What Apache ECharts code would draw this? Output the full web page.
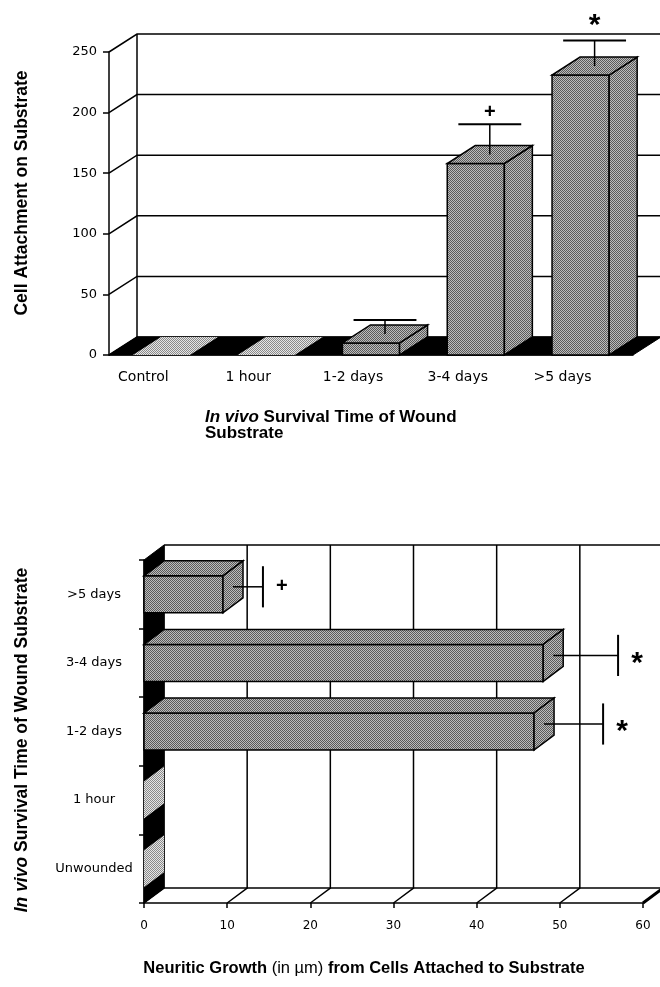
<!DOCTYPE html>
<html>
<head>
<meta charset="utf-8">
<script src="https://cdn.jsdelivr.net/npm/echarts@6/dist/echarts.min.js"></script>
<style>
html, body { margin: 0; padding: 0; background: #fff; }
#main { width: 660px; height: 987px; }
</style>
</head>
<body>
<div id="main"></div>
<script>
// top chart - cell attachment
var attachCategories = ['Control', '1 hour', '1-2 days', '3-4 days', '>5 days'];
var attachValues = [0, 0, 10, 158, 231];
var attachErrors = [0, 0, 11.5, 25, 21];
var attachMarks = ['', '', '', '+', '*'];
var attachTicks = [0, 50, 100, 150, 200, 250];

// bottom chart - neuritic growth
var growthCategories = ['Unwounded', '1 hour', '1-2 days', '3-4 days', '>5 days'];
var growthValues = [0, 0, 46.9, 48.0, 9.5];
var growthErrors = [0, 0, 7.1, 7.8, 3.6];
var growthMarks = ['', '', '*', '*', '+'];
var growthTicks = [0, 10, 20, 30, 40, 50, 60];

var TOP_DX = 28, TOP_DY = -18;
var BOT_DX = 20, BOT_DY = -15;
var LBL_FONT = 'DejaVu Sans';
var TITLE_FONT = 'Liberation Sans';

// little stipple tile, like the halftone fill of the old print
function stipple(dark, light) {
  var c = document.createElement('canvas');
  c.width = 2; c.height = 2;
  var g = c.getContext('2d');
  g.fillStyle = light; g.fillRect(0, 0, 2, 2);
  g.fillStyle = dark; g.fillRect(0, 0, 1, 1); g.fillRect(1, 1, 1, 1);
  return { image: c, repeat: 'repeat' };
}
var BAR_FILL = stipple('#5a5a5a', '#bcbcbc');
var FLAT_FILL = stipple('#8a8a8a', '#e6e6e6');

function markText(mark, x, y) {
  // asterisk glyph sits high, push it down a bit
  return {
    type: 'text',
    style: {
      text: mark, x: x, y: y + (mark === '*' ? 8 : 0),
      fontFamily: TITLE_FONT, fontWeight: 'bold',
      fontSize: mark === '*' ? 30 : 20,
      fill: '#000', align: 'center', verticalAlign: 'middle'
    }
  };
}

// back wall + floor of the top chart
function topFrame(params, api) {
  var cs = params.coordSys;
  var x0 = cs.x, x1 = cs.x + cs.width, yb = cs.y + cs.height, yt = cs.y;
  var kids = [];
  kids.push({
    type: 'polygon',
    shape: { points: [[x0, yb], [x1, yb], [x1 + TOP_DX, yb + TOP_DY], [x0 + TOP_DX, yb + TOP_DY]] },
    style: { fill: '#000', stroke: '#000', lineWidth: 1 }
  });
  kids.push({
    type: 'line',
    shape: { x1: x0 + TOP_DX, y1: yb + TOP_DY, x2: x0 + TOP_DX, y2: yt + TOP_DY },
    style: { stroke: '#000', lineWidth: 1.5 }
  });
  return { type: 'group', children: kids };
}

function topGridLine(params, api) {
  var cs = params.coordSys;
  var y = api.coord([0, api.value(1)])[1];
  var x0 = cs.x;
  return {
    type: 'polyline',
    shape: { points: [[x0, y], [x0 + TOP_DX, y + TOP_DY], [x0 + cs.width + TOP_DX, y + TOP_DY]] },
    style: { stroke: '#000', lineWidth: 1.5, fill: null }
  };
}

function topBar(params, api) {
  var i = api.value(0), v = api.value(1), e = api.value(2);
  var top = api.coord([i, v]);
  var base = api.coord([i, 0]);
  var bw = api.size([1, 0])[0] * 0.545;
  var xa = top[0] - bw / 2, xb = top[0] + bw / 2;
  var kids = [];
  if (v <= 0) {
    kids.push({
      type: 'polygon',
      shape: { points: [[xa, base[1]], [xb, base[1]], [xb + TOP_DX, base[1] + TOP_DY], [xa + TOP_DX, base[1] + TOP_DY]] },
      style: { fill: FLAT_FILL }
    });
  } else {
    var st = { fill: BAR_FILL, stroke: '#000', lineWidth: 1.5 };
    kids.push({ type: 'rect', shape: { x: xa, y: top[1], width: bw, height: base[1] - top[1] }, style: st });
    kids.push({
      type: 'polygon',
      shape: { points: [[xb, top[1]], [xb, base[1]], [xb + TOP_DX, base[1] + TOP_DY], [xb + TOP_DX, top[1] + TOP_DY]] },
      style: st
    });
    kids.push({
      type: 'polygon',
      shape: { points: [[xa, top[1]], [xb, top[1]], [xb + TOP_DX, top[1] + TOP_DY], [xa + TOP_DX, top[1] + TOP_DY]] },
      style: st
    });
  }
  if (e > 0) {
    var sx = top[0] + TOP_DX / 2;
    var sy = top[1] + TOP_DY / 2;
    var cy = api.coord([i, v + e])[1] + TOP_DY / 2;
    var cw = api.size([1, 0])[0] * 0.6;
    kids.push({ type: 'line', shape: { x1: sx, y1: sy, x2: sx, y2: cy }, style: { stroke: '#000', lineWidth: 1.5 } });
    kids.push({ type: 'line', shape: { x1: sx - cw / 2, y1: cy, x2: sx + cw / 2, y2: cy }, style: { stroke: '#000', lineWidth: 2 } });
    var m = attachMarks[i];
    if (m) kids.push(markText(m, sx, cy - (m === '*' ? 23 : 12)));
  }
  return { type: 'group', children: kids };
}

// left wall + bottom plane of the lower chart
function botFrame(params, api) {
  var cs = params.coordSys;
  var x0 = cs.x, x1 = cs.x + cs.width, yb = cs.y + cs.height, yt = cs.y;
  var kids = [];
  kids.push({
    type: 'polygon',
    shape: { points: [[x0, yb], [x0, yt], [x0 + BOT_DX, yt + BOT_DY], [x0 + BOT_DX, yb + BOT_DY]] },
    style: { fill: '#000', stroke: '#000', lineWidth: 1 }
  });
  kids.push({
    type: 'line',
    shape: { x1: x0 + BOT_DX, y1: yt + BOT_DY, x2: x1 + BOT_DX, y2: yt + BOT_DY },
    style: { stroke: '#000', lineWidth: 1.5 }
  });
  kids.push({
    type: 'line',
    shape: { x1: x0 + BOT_DX, y1: yb + BOT_DY, x2: x1 + BOT_DX, y2: yb + BOT_DY },
    style: { stroke: '#000', lineWidth: 1.5 }
  });
  return { type: 'group', children: kids };
}

function botGridLine(params, api) {
  var cs = params.coordSys;
  var v = api.value(0);
  var x = api.coord([v, 0])[0];
  var yb = cs.y + cs.height, yt = cs.y;
  return {
    type: 'polyline',
    shape: { points: [[x, yb], [x + BOT_DX, yb + BOT_DY], [x + BOT_DX, yt + BOT_DY]] },
    style: { stroke: '#000', lineWidth: v === 60 ? 3 : 1.5, fill: null }
  };
}

function botBar(params, api) {
  var i = api.value(0), v = api.value(1), e = api.value(2);
  var end = api.coord([v, i]);
  var base = api.coord([0, i]);
  var bh = api.size([0, 1])[1] * 0.54;
  var ya = end[1] - bh / 2, yb = end[1] + bh / 2;
  var kids = [];
  if (v <= 0) {
    kids.push({
      type: 'polygon',
      shape: { points: [[base[0], ya], [base[0], yb], [base[0] + BOT_DX, yb + BOT_DY], [base[0] + BOT_DX, ya + BOT_DY]] },
      style: { fill: FLAT_FILL }
    });
  } else {
    var st = { fill: BAR_FILL, stroke: '#000', lineWidth: 1.5 };
    kids.push({ type: 'rect', shape: { x: base[0], y: ya, width: end[0] - base[0], height: bh }, style: st });
    kids.push({
      type: 'polygon',
      shape: { points: [[base[0], ya], [end[0], ya], [end[0] + BOT_DX, ya + BOT_DY], [base[0] + BOT_DX, ya + BOT_DY]] },
      style: st
    });
    kids.push({
      type: 'polygon',
      shape: { points: [[end[0], ya], [end[0], yb], [end[0] + BOT_DX, yb + BOT_DY], [end[0] + BOT_DX, ya + BOT_DY]] },
      style: st
    });
  }
  if (e > 0) {
    var sy = end[1] + BOT_DY / 2;
    var sx = end[0] + BOT_DX / 2;
    var cx = api.coord([v + e, i])[0] + BOT_DX / 2;
    var ch = api.size([0, 1])[1] * 0.6;
    kids.push({ type: 'line', shape: { x1: sx, y1: sy, x2: cx, y2: sy }, style: { stroke: '#000', lineWidth: 1.5 } });
    kids.push({ type: 'line', shape: { x1: cx, y1: sy - ch / 2, x2: cx, y2: sy + ch / 2 }, style: { stroke: '#000', lineWidth: 2 } });
    var m = growthMarks[i];
    if (m) kids.push(markText(m, cx + 19, sy));
  }
  return { type: 'group', children: kids };
}

var chart = echarts.init(document.getElementById('main'));

var axisLineStyle = { color: '#000', width: 1.5 };

chart.setOption({
  animation: false,
  backgroundColor: '#fff',
  grid: [
    { left: 109, right: 27, top: 52, bottom: 632 },
    { left: 144, right: 17, top: 560, bottom: 84 }
  ],
  xAxis: [
    {
      gridIndex: 0, type: 'category', data: attachCategories,
      axisLine: { lineStyle: axisLineStyle },
      axisTick: { length: 6, lineStyle: axisLineStyle },
      axisLabel: { color: '#000', fontFamily: LBL_FONT, fontSize: 14, margin: 15, padding: [0, 36, 0, 0] },
      splitLine: { show: false }
    },
    {
      gridIndex: 1, type: 'value', min: 0, max: 60, interval: 10,
      axisLine: { show: true, lineStyle: axisLineStyle },
      axisTick: { show: true, length: 5, lineStyle: axisLineStyle },
      axisLabel: { color: '#000', fontFamily: LBL_FONT, fontSize: 12, margin: 17 },
      splitLine: { show: false }
    }
  ],
  yAxis: [
    {
      gridIndex: 0, type: 'value', min: 0, max: 250, interval: 50,
      axisLine: { show: true, lineStyle: axisLineStyle },
      axisTick: { show: true, length: 6, lineStyle: axisLineStyle },
      axisLabel: { color: '#000', fontFamily: LBL_FONT, fontSize: 13, margin: 12 },
      splitLine: { show: false }
    },
    {
      gridIndex: 1, type: 'category', data: growthCategories,
      axisLine: { show: true, lineStyle: axisLineStyle },
      axisTick: { show: true, length: 5, lineStyle: axisLineStyle },
      axisLabel: { color: '#000', fontFamily: LBL_FONT, fontSize: 13, margin: 50, align: 'center' },
      splitLine: { show: false }
    }
  ],
  series: [
    {
      type: 'custom', xAxisIndex: 0, yAxisIndex: 0, z: 1, silent: true,
      data: attachTicks.map(function (t) { return [0, t]; }),
      renderItem: topGridLine
    },
    {
      type: 'custom', xAxisIndex: 0, yAxisIndex: 0, z: 2, silent: true,
      data: [[0, 0]],
      renderItem: topFrame
    },
    {
      type: 'custom', xAxisIndex: 0, yAxisIndex: 0, z: 3,
      data: attachValues.map(function (v, i) { return [i, v, attachErrors[i]]; }),
      renderItem: topBar
    },
    {
      type: 'custom', xAxisIndex: 1, yAxisIndex: 1, z: 1, silent: true,
      data: growthTicks.map(function (t) { return [t, 0]; }),
      renderItem: botGridLine
    },
    {
      type: 'custom', xAxisIndex: 1, yAxisIndex: 1, z: 2, silent: true,
      data: [[0, 0]],
      renderItem: botFrame
    },
    {
      type: 'custom', xAxisIndex: 1, yAxisIndex: 1, z: 3,
      data: growthValues.map(function (v, i) { return [i, v, growthErrors[i]]; }),
      encode: { x: 1, y: 0 },
      renderItem: botBar
    }
  ],
  graphic: [
    {
      type: 'text', x: 22, y: 193, rotation: Math.PI / 2,
      style: {
        text: 'Cell Attachment on Substrate',
        fontFamily: TITLE_FONT, fontWeight: 'bold', fontSize: 17.5, fill: '#000',
        align: 'center', verticalAlign: 'middle'
      }
    },
    {
      type: 'text', x: 205, y: 409,
      style: {
        text: '{i|In vivo} Survival Time of Wound\nSubstrate',
        fontFamily: TITLE_FONT, fontWeight: 'bold', fontSize: 17, fill: '#000', lineHeight: 16,
        align: 'left', verticalAlign: 'top',
        rich: { i: { fontFamily: TITLE_FONT, fontWeight: 'bold', fontStyle: 'italic', fontSize: 17, lineHeight: 16 } }
      }
    },
    {
      type: 'text', x: 22, y: 740, rotation: Math.PI / 2,
      style: {
        text: '{i|In vivo} Survival Time of Wound Substrate',
        fontFamily: TITLE_FONT, fontWeight: 'bold', fontSize: 17.5, fill: '#000',
        align: 'center', verticalAlign: 'middle',
        rich: { i: { fontFamily: TITLE_FONT, fontWeight: 'bold', fontStyle: 'italic', fontSize: 17.5 } }
      }
    },
    {
      type: 'text', x: 364, y: 968,
      style: {
        text: 'Neuritic Growth {n|(in \u00b5m)} from Cells Attached to Substrate',
        fontFamily: TITLE_FONT, fontWeight: 'bold', fontSize: 16.5, fill: '#000',
        align: 'center', verticalAlign: 'middle',
        rich: { n: { fontFamily: TITLE_FONT, fontWeight: 'normal', fontSize: 16.5 } }
      }
    }
  ]
});
</script>
</body>
</html>
